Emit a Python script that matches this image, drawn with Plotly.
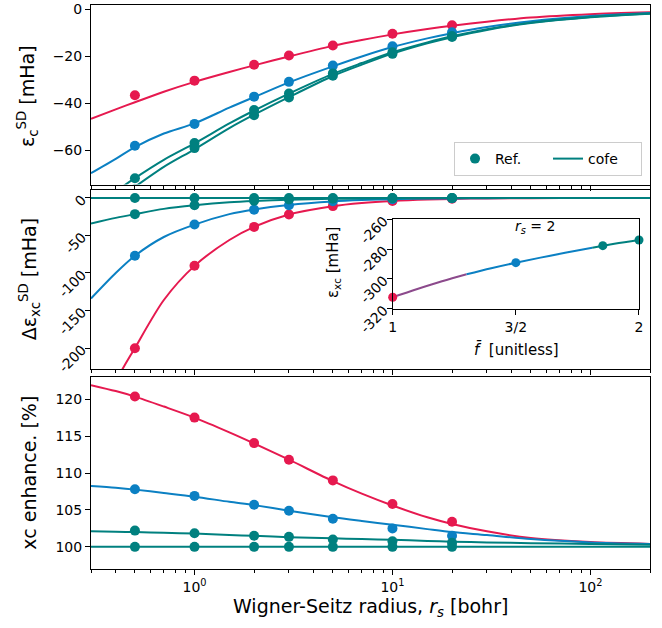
import numpy as np
import plotly.graph_objects as go

RED = "#e6194f"
BLUE = "#0b80c3"
TEAL = "#00807f"
PURPLE = "#8c4a8c"
FONT = "DejaVu Sans"

# ---------------- data ----------------
rs_points = [0.5, 1, 2, 3, 5, 10, 20]
rs_curve = [0.3, 0.4, 0.5, 0.7, 1, 1.5, 2, 3, 5, 7, 10, 15, 20, 30, 50, 100, 200]

# panel 1: eps_c^SD [mHa]
ec_red_pts = [-36.5, -30.3, -23.5, -19.6, -15.3, -10.3, -6.7]
ec_blue_pts = [-58.0, -48.7, -37.1, -30.8, -23.9, -15.7, -9.7]
ec_teal1_pts = [-71.8, -56.8, -42.8, -35.8, -27.2, -18.2, -11.3]
ec_teal2_pts = [-76.5, -59.0, -45.0, -37.5, -28.2, -18.9, -11.7]
ec_red_fit = [-46.5, -42.5, -39.5, -35.0, -30.8, -26.6, -23.8, -20.0, -15.5, -13.0, -10.6, -8.3, -6.9, -5.2, -3.4, -2.0, -1.2]
ec_blue_fit = [-69.7, -63.6, -58.6, -52.8, -48.5, -41.8, -37.3, -31.0, -24.2, -20.0, -16.0, -12.3, -10.1, -7.5, -5.0, -2.8, -1.5]
ec_teal1_fit = [-85.5, -77.5, -71.8, -64.0, -57.0, -48.5, -43.0, -35.8, -27.4, -22.8, -18.2, -14.0, -11.4, -8.4, -5.6, -3.2, -1.7]
ec_teal2_fit = [-89.5, -81.5, -75.5, -67.0, -59.5, -50.5, -44.8, -37.3, -28.3, -23.5, -18.8, -14.4, -11.8, -8.7, -5.8, -3.3, -1.8]

# panel 2: Delta eps_xc^SD [mHa]
dxc_red_pts = [-200.3, -90.4, -38.5, -22.0, -10.8, -4.0, -0.9]
dxc_blue_pts = [-77.0, -35.4, -15.5, -9.7, -4.4, -1.5, -0.4]
dxc_teal2_pts = [-21.5, -9.7, -3.5, -2.0, -1.0, -0.3, -0.1]
dxc_teal1_pts = [0, 0, 0, 0, 0, 0, 0]
dxc_red_fit = [-330, -245, -200, -136, -90.5, -56, -38.5, -22.0, -11.0, -6.8, -4.0, -2.0, -1.2, -0.5, -0.2, 0, 0]
dxc_blue_fit = [-134, -100, -77, -52, -35.5, -21.5, -15.2, -9.2, -4.6, -2.8, -1.6, -0.8, -0.5, -0.2, -0.1, 0, 0]
dxc_teal2_fit = [-34, -26.5, -21.5, -14.5, -9.8, -5.8, -4.0, -2.3, -1.1, -0.7, -0.4, -0.2, -0.1, 0, 0, 0, 0]
dxc_teal1_fit = [0] * 17

# panel 3: xc enhancement [%]
enh_red_pts = [120.35, 117.5, 114.05, 111.8, 109.0, 105.8, 103.4]
enh_blue_pts = [107.8, 106.9, 105.7, 104.9, 103.8, 102.5, 101.5]
enh_teal2_pts = [102.2, 101.85, 101.5, 101.35, 101.0, 100.75, 100.55]
enh_teal1_pts = [100, 100, 100, 100, 100, 100, 100]
enh_red_fit = [121.9, 121.1, 120.35, 119.0, 117.5, 115.5, 114.0, 111.8, 108.9, 107.2, 105.6, 104.0, 103.1, 102.1, 101.2, 100.65, 100.4]
enh_blue_fit = [108.25, 108.0, 107.75, 107.3, 106.8, 106.1, 105.65, 104.9, 104.0, 103.5, 103.0, 102.4, 102.0, 101.6, 101.05, 100.6, 100.4]
enh_teal2_fit = [102.1, 102.05, 102.0, 101.9, 101.8, 101.6, 101.5, 101.3, 101.15, 101.05, 100.95, 100.8, 100.7, 100.6, 100.5, 100.4, 100.3]
enh_teal1_fit = [100] * 17

# inset: eps_xc vs f-bar at r_s = 2
inset_f_curve = [1.0, 1.1, 1.2, 1.3, 1.4, 1.5, 1.6, 1.7, 1.81, 1.9, 2.0]
inset_exc_curve = [-312.3, -306.8, -301.6, -296.9, -292.8, -289.1, -285.7, -282.5, -279.1, -276.4, -273.8]
inset_segments = [(0, 3, PURPLE), (3, 8, BLUE), (8, 10, TEAL)]
inset_f_pts = [1.0, 1.5, 1.853, 2.0]
inset_exc_pts = [-312.3, -289.1, -277.7, -273.9]
inset_pt_colors = [RED, BLUE, TEAL, TEAL]

x_major = [1, 10, 100]
x_major_text = ["10<sup>0</sup>", "10<sup>1</sup>", "10<sup>2</sup>"]
x_minor = [0.3, 0.4, 0.5, 0.6, 0.7, 0.8, 0.9, 2, 3, 4, 5, 6, 7, 8, 9,
           20, 30, 40, 50, 60, 70, 80, 90, 200]

# ---------------- figure ----------------
fig = go.Figure()


def add_series(xa, ya, fit, pts, color):
    fig.add_trace(go.Scatter(x=rs_curve, y=fit, mode="lines",
                             line=dict(color=color, width=2, shape="spline", smoothing=0.8),
                             xaxis=xa, yaxis=ya, showlegend=False, hoverinfo="skip"))
    fig.add_trace(go.Scatter(x=rs_points, y=pts, mode="markers",
                             marker=dict(color=color, size=10),
                             xaxis=xa, yaxis=ya, showlegend=False))


add_series("x", "y", ec_red_fit, ec_red_pts, RED)
add_series("x", "y", ec_blue_fit, ec_blue_pts, BLUE)
add_series("x", "y", ec_teal2_fit, ec_teal2_pts, TEAL)
add_series("x", "y", ec_teal1_fit, ec_teal1_pts, TEAL)

add_series("x2", "y2", dxc_red_fit, dxc_red_pts, RED)
add_series("x2", "y2", dxc_blue_fit, dxc_blue_pts, BLUE)
add_series("x2", "y2", dxc_teal2_fit, dxc_teal2_pts, TEAL)
add_series("x2", "y2", dxc_teal1_fit, dxc_teal1_pts, TEAL)

add_series("x3", "y3", enh_red_fit, enh_red_pts, RED)
add_series("x3", "y3", enh_blue_fit, enh_blue_pts, BLUE)
add_series("x3", "y3", enh_teal2_fit, enh_teal2_pts, TEAL)
add_series("x3", "y3", enh_teal1_fit, enh_teal1_pts, TEAL)

# inset
for i0, i1, col in inset_segments:
    fig.add_trace(go.Scatter(x=inset_f_curve[i0:i1 + 1], y=inset_exc_curve[i0:i1 + 1], mode="lines",
                             line=dict(color=col, width=2, shape="spline"),
                             xaxis="x4", yaxis="y4", showlegend=False, hoverinfo="skip"))
fig.add_trace(go.Scatter(x=inset_f_pts, y=inset_exc_pts, mode="markers",
                         marker=dict(color=inset_pt_colors, size=9), cliponaxis=False,
                         xaxis="x4", yaxis="y4", showlegend=False))

# legend entries
fig.add_trace(go.Scatter(x=[None], y=[None], mode="markers", marker=dict(color=TEAL, size=10),
                         name="Ref.", xaxis="x", yaxis="y"))
fig.add_trace(go.Scatter(x=[None], y=[None], mode="lines", line=dict(color=TEAL, width=2),
                         name="cofe", xaxis="x", yaxis="y"))

axis_common = dict(showline=True, linecolor="black", linewidth=1, mirror=True,
                   ticks="outside", ticklen=5, tickwidth=1, tickcolor="black",
                   showgrid=False, zeroline=False, automargin=False,
                   tickfont=dict(family=FONT, size=14, color="black"))

xr = [np.log10(0.3), np.log10(200)]
xcommon = dict(axis_common, type="log", range=xr, tickmode="array",
               tickvals=x_major, ticktext=x_major_text,
               minor=dict(tickmode="array", tickvals=x_minor, ticks="outside",
                          ticklen=3, tickwidth=0.8, tickcolor="black", showgrid=False))

fig.update_layout(
    width=662, height=628,
    margin=dict(l=91, r=12, t=5, b=59, autoexpand=False),
    paper_bgcolor="white", plot_bgcolor="white",
    font=dict(family=FONT, size=14, color="black"),
    xaxis=dict(xcommon, domain=[0, 1], anchor="y", showticklabels=False),
    xaxis2=dict(xcommon, domain=[0, 1], anchor="y2", showticklabels=False),
    xaxis3=dict(xcommon, domain=[0, 1], anchor="y3"),
    yaxis=dict(axis_common, domain=[0.6817, 1.0], anchor="x", range=[-74.5, 1.9],
               tickvals=[-60, -40, -20, 0]),
    yaxis2=dict(axis_common, domain=[0.3546, 0.6711], anchor="x2", range=[-228, 10],
                tickmode="array", tickvals=[-200, -150, -100, -50, 0],
                ticktext=["-200", "-150", "-100", "-50", "0"], tickangle=-45),
    yaxis3=dict(axis_common, domain=[0.0, 0.3404], anchor="x3", range=[97, 123],
                tickvals=[100, 105, 110, 115, 120]),
    xaxis4=dict(axis_common, domain=[0.5397, 0.9803], anchor="y4", range=[1, 2],
                tickmode="array", tickvals=[1, 1.5, 2], ticktext=["1", "3/2", "2"]),
    yaxis4=dict(axis_common, domain=[0.4615, 0.6200], anchor="x4", range=[-320, -260],
                tickmode="array", tickvals=[-320, -300, -280, -260],
                ticktext=["-320", "-300", "-280", "-260"], tickangle=-45),
    legend=dict(orientation="h", x=0.9857, xanchor="right", y=0.6968, yanchor="bottom",
                bordercolor="#cccccc", borderwidth=1, bgcolor="rgba(255,255,255,0.8)",
                entrywidth=48, entrywidthmode="pixels",
                font=dict(family=FONT, size=14, color="black")),
    showlegend=True,
)

ann_font = dict(family=FONT, size=19, color="black")
small_font = dict(family=FONT, size=14, color="black")
annotations = [
    dict(text="ε<sub>c</sub><sup>SD</sup> [mHa]", x=-0.1127, y=0.8387, textangle=-90, font=ann_font),
    dict(text="Δε<sub>xc</sub><sup>SD</sup> [mHa]", x=-0.1100, y=0.513, textangle=-90, font=ann_font),
    dict(text="xc enhance. [%]", x=-0.1100, y=0.170, textangle=-90, font=ann_font),
    dict(text="Wigner-Seitz radius, <i>r<sub>s</sub></i> [bohr]", x=0.5, y=-0.0674, font=ann_font),
    dict(text="<i>r<sub>s</sub></i> = 2", x=0.7943, y=0.6069, font=small_font),
    dict(text="ε<sub>xc</sub> [mHa]", x=0.4329, y=0.5443, textangle=-90, font=dict(family=FONT, size=15, color="black")),
    dict(text="<i>f̄</i>  [unitless]", x=0.7615, y=0.3883, font=dict(family=FONT, size=15, color="black")),
]
for a in annotations:
    fig.add_annotation(xref="paper", yref="paper", showarrow=False,
                       xanchor="center", yanchor="middle", **a)

fig.write_html("out.html", config={"displayModeBar": False},
               post_script="document.body.style.margin='0';document.body.style.overflow='hidden';")
